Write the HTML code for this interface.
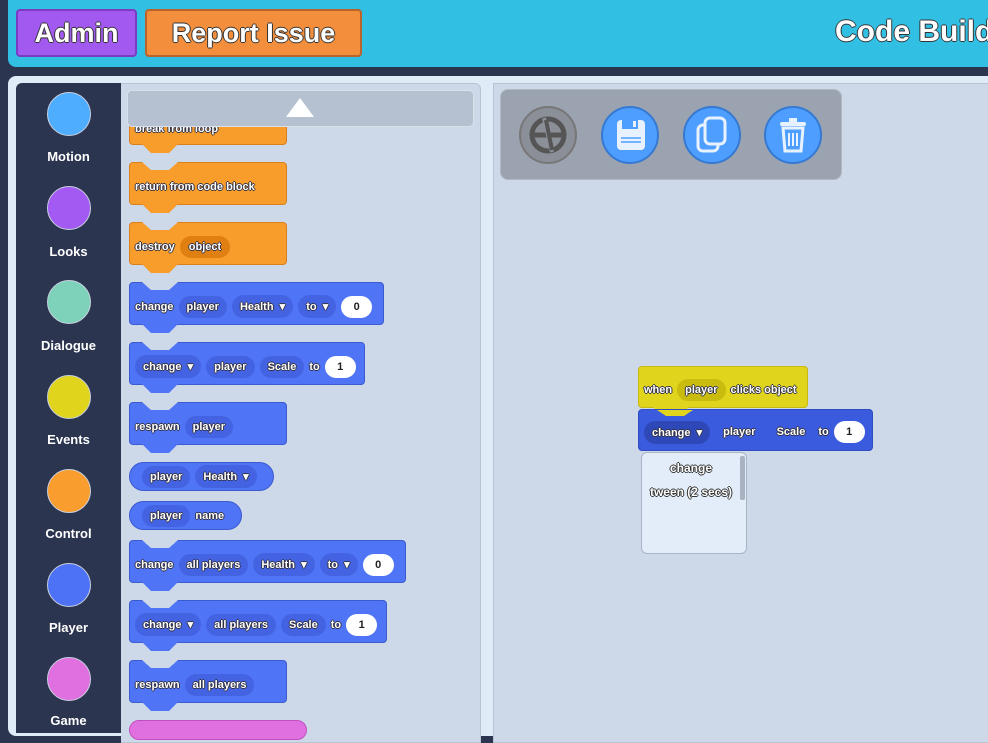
<!DOCTYPE html>
<html><head><meta charset="utf-8"><style>
*{box-sizing:border-box;margin:0;padding:0}
body{width:988px;height:727px;overflow:hidden;background:#2c3550;position:relative;font-family:"Liberation Sans",sans-serif;font-weight:bold}
.a{position:absolute}
.t{color:#fff;text-shadow:-1px 0 #333,1px 0 #333,0 -1px #333,0 1px #333}
.blk{position:absolute;border-radius:4px;display:flex;align-items:center;padding-left:5px;padding-top:6px;gap:5px;font-size:11px;color:#fff;text-shadow:-1px 0 #334,1px 0 #334,0 -1px #334,0 1px #334;white-space:nowrap}
.o{background:#f89c2c;border:1px solid #d9801c}
.b{background:#4f74f5;border:1px solid #3b5bd0}
.p{background:#4463e2;border-radius:12px;padding:5px 8px;font-size:11px}
.po{background:#e07f12;border-radius:12px;padding:5px 9px}
.w{background:#fff;color:#222;text-shadow:none;border-radius:12px;padding:5px 0;width:31px;text-align:center}
.tab{position:absolute;left:12px;bottom:-9px;width:36px;height:9px;clip-path:polygon(0 0,100% 0,75% 100%,25% 100%)}
.ntop{position:absolute;left:12px;top:-1px;width:36px;height:8px;background:#cdd9e8;clip-path:polygon(0 0,100% 0,75% 100%,25% 100%)}
.cat{position:absolute;left:47px;width:44px;height:44px;border-radius:50%;border:1px solid #c8d0e0}
.cl{position:absolute;left:16px;width:105px;text-align:center;font-size:13px;color:#fff}
.ic{position:absolute;width:58px;height:58px;border-radius:50%;background:#4d9eff;border:2px solid #3579d2}
</style></head><body>
<div class="a" style="left:8px;top:0;width:980px;height:67px;background:#31c0e3;border-radius:0 0 0 8px"></div>
<div class="a t" style="left:16px;top:9px;width:121px;height:48px;background:#a259f0;border:2px solid #7a3cc0;border-radius:4px;font-size:27px;text-align:center;line-height:44px">Admin</div>
<div class="a t" style="left:145px;top:9px;width:217px;height:48px;background:#f28e3c;border:2px solid #b8642a;border-radius:4px;font-size:27px;text-align:center;line-height:44px">Report Issue</div>
<div class="a t" style="left:835px;top:15px;font-size:30px;white-space:nowrap">Code Build</div>
<div class="a" style="left:8px;top:76px;width:990px;height:660px;background:#e0ebf8;border-radius:8px"></div>
<div class="a" style="left:16px;top:83px;width:105px;height:650px;background:#2c3550;border-radius:6px 0 0 0"></div>
<div class="cat" style="top:92px;background:#4fadff"></div><div class="cl" style="top:149px">Motion</div>
<div class="cat" style="top:186px;background:#a25af2"></div><div class="cl" style="top:244px">Looks</div>
<div class="cat" style="top:280px;background:#7ed2b9"></div><div class="cl" style="top:338px">Dialogue</div>
<div class="cat" style="top:375px;background:#e0d41c"></div><div class="cl" style="top:432px">Events</div>
<div class="cat" style="top:469px;background:#f99d2e"></div><div class="cl" style="top:526px">Control</div>
<div class="cat" style="top:563px;background:#4d72f5"></div><div class="cl" style="top:620px">Player</div>
<div class="cat" style="top:657px;background:#e06fe0"></div><div class="cl" style="top:713px">Game</div>
<div class="a" style="left:121px;top:83px;width:360px;height:660px;background:#cdd9e8;border:1px solid #b8c4d4;border-left:none;border-radius:0 6px 0 0"></div>
<div class="a" style="left:493px;top:83px;width:500px;height:660px;background:#cdd9e8;border:1px solid #b8c4d4"></div>

<div class="blk o" style="left:129px;top:112px;width:158px;height:33px;padding-top:0;align-items:flex-end;padding-bottom:9px">break from loop<div class="tab" style="background:#f89c2c"></div></div>
<div class="a" style="left:127px;top:90px;width:347px;height:37px;background:#b5c0d1;border:1px solid #d8e0ea;border-radius:5px"></div>
<div class="a" style="left:286px;top:98px;width:0;height:0;border-left:14px solid transparent;border-right:14px solid transparent;border-bottom:19px solid #fff"></div>

<div class="blk o" style="left:129px;top:162px;width:158px;height:43px"><div class="ntop"></div>return from code block<div class="tab" style="background:#f89c2c"></div></div>
<div class="blk o" style="left:129px;top:222px;width:158px;height:43px"><div class="ntop"></div>destroy <span class="po">object</span><div class="tab" style="background:#f89c2c"></div></div>
<div class="blk b" style="left:129px;top:282px;width:255px;height:43px"><div class="ntop"></div>change <span class="p">player</span><span class="p">Health &nbsp;▾</span><span class="p">to &nbsp;▾</span><span class="w">0</span><div class="tab" style="background:#4f74f5"></div></div>
<div class="blk b" style="left:129px;top:342px;width:236px;height:43px"><div class="ntop"></div><span class="p">change &nbsp;▾</span><span class="p">player</span><span class="p">Scale</span>to<span class="w">1</span><div class="tab" style="background:#4f74f5"></div></div>
<div class="blk b" style="left:129px;top:402px;width:158px;height:43px"><div class="ntop"></div>respawn <span class="p">player</span><div class="tab" style="background:#4f74f5"></div></div>
<div class="blk b" style="left:129px;top:462px;width:145px;height:29px;border-radius:15px;padding-left:12px;padding-top:0"><span class="p">player</span><span class="p">Health &nbsp;▾</span></div>
<div class="blk b" style="left:129px;top:501px;width:113px;height:29px;border-radius:15px;padding-left:12px;padding-top:0"><span class="p">player</span>name</div>
<div class="blk b" style="left:129px;top:540px;width:277px;height:43px"><div class="ntop"></div>change <span class="p">all players</span><span class="p">Health &nbsp;▾</span><span class="p">to &nbsp;▾</span><span class="w">0</span><div class="tab" style="background:#4f74f5"></div></div>
<div class="blk b" style="left:129px;top:600px;width:258px;height:43px"><div class="ntop"></div><span class="p">change &nbsp;▾</span><span class="p">all players</span><span class="p">Scale</span>to<span class="w">1</span><div class="tab" style="background:#4f74f5"></div></div>
<div class="blk b" style="left:129px;top:660px;width:158px;height:43px"><div class="ntop"></div>respawn <span class="p">all players</span><div class="tab" style="background:#4f74f5"></div></div>
<div class="a" style="left:129px;top:720px;width:178px;height:20px;background:#e06fe0;border:1px solid #c050c0;border-radius:12px"></div>

<div class="a" style="left:500px;top:89px;width:342px;height:91px;background:#9ba3b0;border:1px solid #b0b8c4;border-radius:8px"></div>
<div class="ic" style="left:519px;top:106px;background:#8a8f98;border-color:#777"><svg width="54" height="54" viewBox="0 0 54 54"><circle cx="27" cy="27" r="16" fill="none" stroke="#555" stroke-width="5"/><line x1="12" y1="27" x2="42" y2="27" stroke="#555" stroke-width="5"/><line x1="23" y1="10" x2="31" y2="44" stroke="#8a8f98" stroke-width="4"/><line x1="25" y1="12" x2="31" y2="42" stroke="#555" stroke-width="4"/></svg></div>
<div class="ic" style="left:601px;top:106px"><svg width="54" height="54" viewBox="0 0 54 54"><rect x="14" y="12" width="28" height="30" rx="4" fill="#e8f2ff"/><rect x="19" y="12" width="16" height="9" fill="#4d9eff"/><rect x="30" y="13" width="3" height="6" fill="#e8f2ff"/><line x1="18" y1="30" x2="38" y2="30" stroke="#4d9eff" stroke-width="1.5"/><line x1="18" y1="34" x2="38" y2="34" stroke="#4d9eff" stroke-width="1.5"/></svg></div>
<div class="ic" style="left:683px;top:106px"><svg width="54" height="54" viewBox="0 0 54 54"><rect x="13" y="17" width="20" height="26" rx="5" fill="none" stroke="#e8f2ff" stroke-width="3"/><rect x="20" y="10" width="20" height="26" rx="5" fill="#4d9eff" stroke="#e8f2ff" stroke-width="3"/></svg></div>
<div class="ic" style="left:764px;top:106px"><svg width="54" height="54" viewBox="0 0 54 54"><rect x="14" y="14" width="26" height="4" rx="2" fill="#e8f2ff"/><rect x="23" y="10" width="8" height="4" fill="#e8f2ff"/><path d="M17 20 L19 43 L35 43 L37 20 Z" fill="none" stroke="#e8f2ff" stroke-width="3"/><line x1="23" y1="25" x2="23" y2="38" stroke="#e8f2ff" stroke-width="2"/><line x1="27" y1="25" x2="27" y2="38" stroke="#e8f2ff" stroke-width="2"/><line x1="31" y1="25" x2="31" y2="38" stroke="#e8f2ff" stroke-width="2"/></svg></div>

<div class="blk" style="left:638px;top:366px;width:170px;height:42px;background:#e0d41c;border:1px solid #c8b810">when <span class="p" style="background:#c9bc0e">player</span>clicks object<div class="tab" style="background:#e0d41c;left:14px"></div></div>
<div class="blk" style="left:638px;top:409px;width:235px;height:42px;background:#3a5bdd;border:1px solid #2f4cc0;z-index:1;padding-top:4px"><span class="p" style="background:#2e48b8">change &nbsp;▾</span><span class="p" style="background:#3a5bdd">player</span><span class="p" style="background:#3a5bdd">Scale</span>to<span class="w">1</span><div class="tab" style="background:#e0d41c;top:0;bottom:auto;left:18px;height:6px"></div></div>
<div class="a" style="left:641px;top:452px;width:106px;height:102px;background:#e3edf9;border:1px solid #aab4c4;border-radius:6px"></div>
<div class="a" style="left:740px;top:456px;width:5px;height:44px;background:#a9b2c0;border-radius:2px"></div>
<div class="a t" style="left:641px;top:461px;width:100px;text-align:center;font-size:12px">change</div>
<div class="a t" style="left:641px;top:485px;width:100px;text-align:center;font-size:12px">tween (2 secs)</div>
</body></html>
